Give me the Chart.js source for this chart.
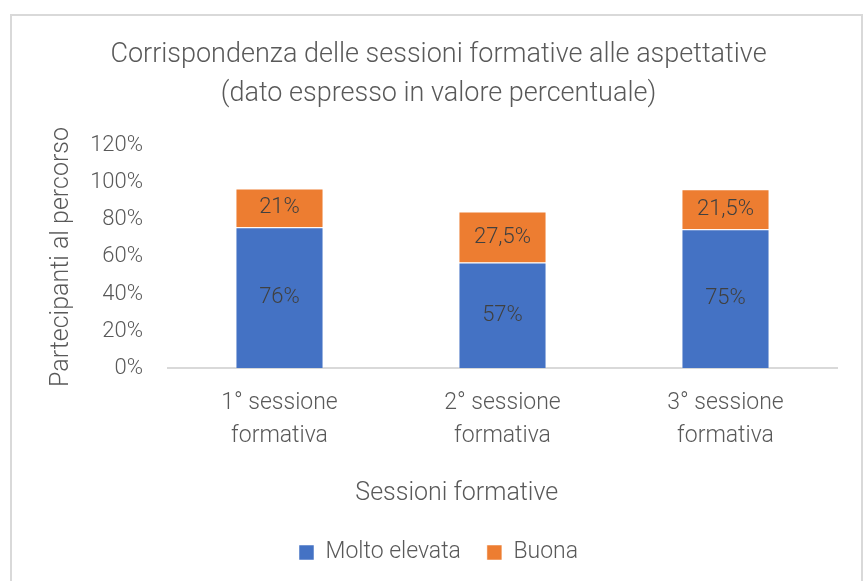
<!DOCTYPE html>
<html>
<head>
<meta charset="utf-8">
<script src="https://cdn.jsdelivr.net/npm/chart.js@4"></script>
<style>
  html, body { margin: 0; padding: 0; background: #fff; }
  #wrap { position: relative; width: 868px; height: 581px; overflow: hidden; }
  #frame { position: absolute; left: 10px; top: 14px; width: 853px; height: 600px; border: 2px solid #d9d9d9; box-sizing: border-box; }
  canvas { position: absolute; left: 0; top: 0; }
</style>
</head>
<body>
<div id="wrap">
  <div id="frame"></div>
  <canvas id="c" width="868" height="581"></canvas>
</div>
<script>
const categories = [["1° sessione", "formativa"], ["2° sessione", "formativa"], ["3° sessione", "formativa"]];
const molto = [76, 57, 75];
const buona = [21, 27.5, 21.5];
const yTicks = [0, 20, 40, 60, 80, 100, 120];

const FONT = "Roboto";
const fmt = v => String(v).replace('.', ',') + '%';

const labelPlugin = {
  id: 'labels',
  afterDatasetsDraw(chart) {
    const ctx = chart.ctx;
    ctx.save();
    ctx.font = '300 22px ' + FONT;
    ctx.fillStyle = '#404040';
    ctx.textAlign = 'center';
    ctx.textBaseline = 'middle';
    chart.data.datasets.forEach((ds, i) => {
      const meta = chart.getDatasetMeta(i);
      meta.data.forEach((el, j) => {
        const p = el.getProps(['x', 'y', 'base'], true);
        ctx.fillText(fmt(ds.data[j]), p.x, (p.y + p.base) / 2);
      });
    });
    ctx.restore();
  }
};

new Chart(document.getElementById('c'), {
  type: 'bar',
  data: {
    labels: categories,
    datasets: [
      { label: 'Molto elevata', data: molto, backgroundColor: '#4472C4', borderColor: 'rgba(255,255,255,0.5)', borderWidth: 1 },
      { label: 'Buona', data: buona, backgroundColor: '#ED7D31', borderColor: 'rgba(255,255,255,0.5)', borderWidth: 1 }
    ]
  },
  options: {
    responsive: false,
    animation: false,
    devicePixelRatio: 1,
    layout: { padding: { left: 40, right: 31, top: 36, bottom: 7 } },
    datasets: { bar: { categoryPercentage: 1, barPercentage: 0.395 } },
    plugins: {
      title: {
        display: true,
        text: ['Corrispondenza delle sessioni formative alle aspettative', '(dato espresso in valore percentuale)'],
        color: '#595959',
        font: { family: FONT, size: 27, weight: 300, lineHeight: 1.44 },
        padding: { top: 0, bottom: 32 }
      },
      legend: {
        position: 'bottom',
        labels: {
          color: '#595959',
          font: { family: FONT, size: 23, weight: 300 },
          boxWidth: 15, boxHeight: 15, padding: 26
        }
      },
      tooltip: { enabled: false }
    },
    scales: {
      x: {
        stacked: true,
        grid: { display: false, drawTicks: false },
        border: { display: true, color: '#d9d9d9', width: 2 },
        ticks: { color: '#595959', font: { family: FONT, size: 23, weight: 300, lineHeight: 1.43 }, padding: 19, maxRotation: 0 },
        title: { display: true, text: 'Sessioni formative' + ' '.repeat(15), color: '#595959', font: { family: FONT, size: 25, weight: 300 }, padding: { top: 7, bottom: 6 } }
      },
      y: {
        stacked: true,
        min: 0, max: 120,
        afterBuildTicks(scale) { scale.ticks = yTicks.map(v => ({ value: v })); },
        afterFit(scale) { scale.width = 128; },
        grid: { display: false, drawTicks: false },
        border: { display: false },
        ticks: { color: '#595959', font: { family: FONT, size: 22, weight: 300 }, padding: 25, callback: v => v + '%' },
        title: { display: true, text: 'Partecipanti al percorso', color: '#595959', font: { family: FONT, size: 25, weight: 300 }, padding: { top: 7, bottom: 0 } }
      }
    }
  },
  plugins: [labelPlugin]
});
</script>
</body>
</html>
